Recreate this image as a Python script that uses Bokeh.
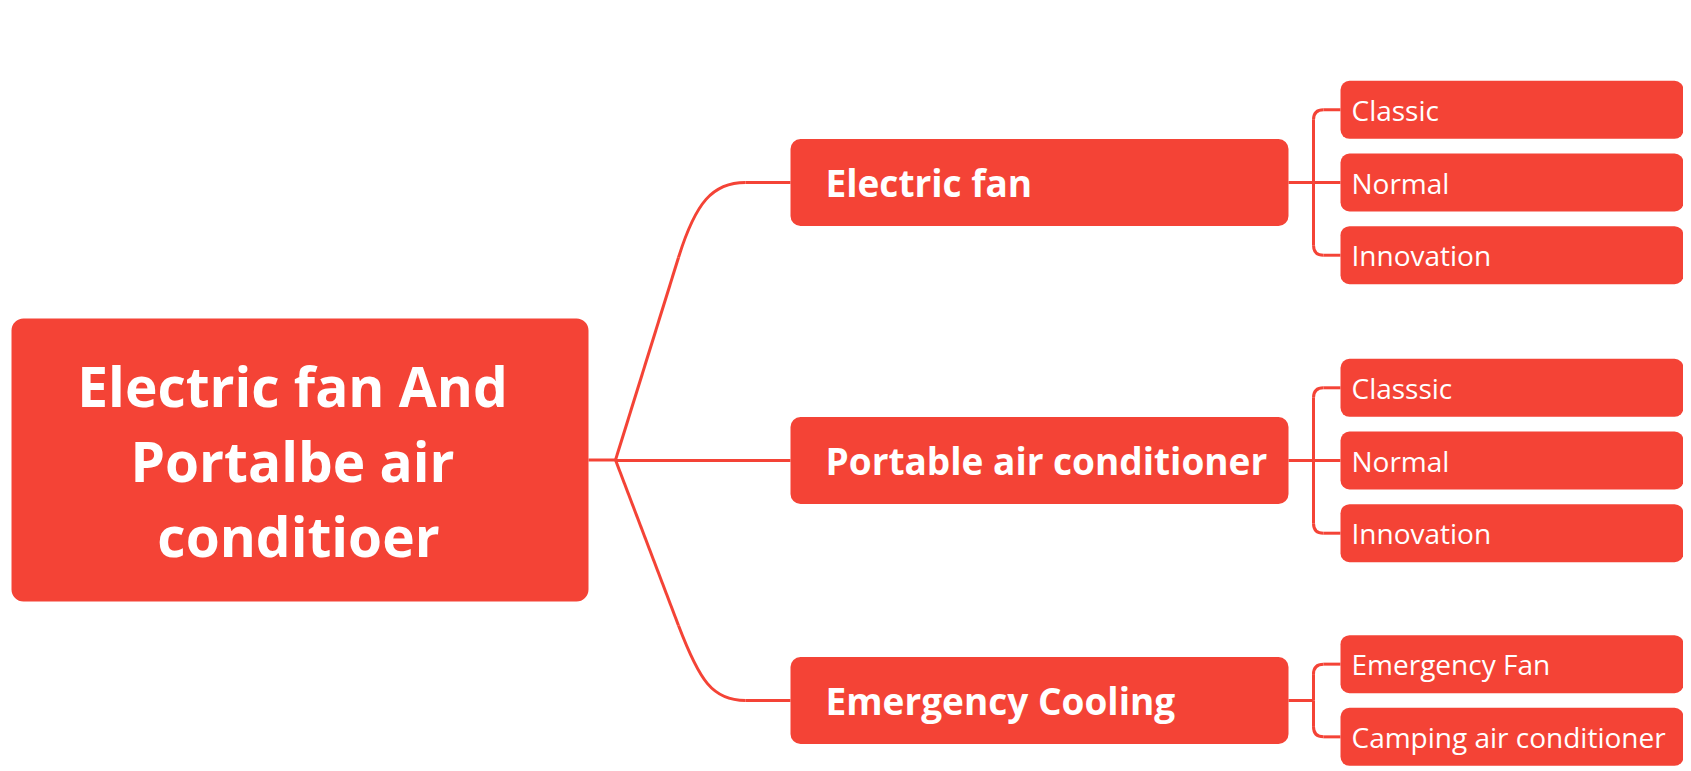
from bokeh.plotting import figure
from bokeh.models import Range1d
from bokeh.embed import file_html
from bokeh.resources import INLINE
from bokeh.core.properties import value

# ---- data ----
root_lines = ["Electric fan And", "Portalbe air", "conditioer"]
branches = ["Electric fan", "Portable air conditioner", "Emergency Cooling"]
leaves = [
    ["Classic", "Normal", "Innovation"],
    ["Classsic", "Normal", "Innovation"],
    ["Emergency Fan", "Camping air conditioner"],
]

# ---- layout (page pixel coordinates) ----
RED = "#F44336"
FONT = value("Open Sans")
W, H = 1683, 767
p = figure(width=W, height=H, output_backend="svg", toolbar_location=None,
           x_range=Range1d(0, W), y_range=Range1d(H, 0),
           min_border=0, outline_line_color=None)
p.axis.visible = False
p.grid.visible = False
p.background_fill_color = "white"
p.border_fill_color = "white"

# root box
root_l, root_r, root_t, root_b = 11, 588, 318, 601
root_cy = (root_t + root_b) / 2
p.quad(left=[root_l], right=[root_r], top=[root_t], bottom=[root_b],
       fill_color=RED, line_color=None, border_radius=12)
line_gap = 75
root_cx = [292, 292, 298]
for i, t in enumerate(root_lines):
    y = root_cy + (i - (len(root_lines) - 1) / 2) * line_gap
    p.text(x=[root_cx[i]], y=[y], text=[t], text_color="white",
           text_font=FONT, text_font_style="bold", text_font_size="55px",
           text_align="center", text_baseline="middle")

# branches
br_l, br_r, br_h = 790, 1288, 87
br_cy = [182, 460, 700]
junc_x = 615
bend_x = 678
p.line([root_r, junc_x], [root_cy, root_cy], line_color=RED, line_width=3)
for name, cy in zip(branches, br_cy):
    p.quad(left=[br_l], right=[br_r], top=[cy - br_h / 2], bottom=[cy + br_h / 2],
           fill_color=RED, line_color=None, border_radius=10)
    p.text(x=[br_l + 35], y=[cy], text=[name], text_color="white",
           text_font=FONT, text_font_style="bold", text_font_size="37px",
           text_align="left", text_baseline="middle")
    if abs(cy - root_cy) < 1:
        p.line([junc_x, br_l], [cy, cy], line_color=RED, line_width=3)
    else:
        s = 1 if root_cy > cy else -1
        bend_y = cy + s * 75
        dx, dy = bend_x - junc_x, bend_y - root_cy
        k = 55 / abs(dy)
        p.line([junc_x, bend_x], [root_cy, bend_y], line_color=RED, line_width=3)
        p.bezier(x0=[bend_x], y0=[bend_y], x1=[745], y1=[cy],
                 cx0=[bend_x + dx * k], cy0=[bend_y + dy * k],
                 cx1=[712], cy1=[cy], line_color=RED, line_width=3)
        p.line([745, br_l], [cy, cy], line_color=RED, line_width=3)

# leaves
lf_l, lf_r, lf_h, lf_gap = 1340, 1683, 58, 72.7
lj_x = 1313
rad = 10
for group, cy in zip(leaves, br_cy):
    n = len(group)
    ys = [cy + (j - (n - 1) / 2) * lf_gap for j in range(n)]
    p.line([br_r, lj_x], [cy, cy], line_color=RED, line_width=3)
    for name, ly in zip(group, ys):
        p.quad(left=[lf_l], right=[lf_r], top=[ly - lf_h / 2], bottom=[ly + lf_h / 2],
               fill_color=RED, line_color=None, border_radius=9)
        p.text(x=[lf_l + 11], y=[ly], text=[name], text_color="white",
               text_font=FONT, text_font_size="28px",
               text_align="left", text_baseline="middle")
        if abs(ly - cy) < 1:
            p.line([lj_x, lf_l], [ly, ly], line_color=RED, line_width=3)
        else:
            s = 1 if ly > cy else -1
            p.line([lj_x, lj_x], [cy, ly - s * rad], line_color=RED, line_width=3)
            p.quadratic(x0=[lj_x], y0=[ly - s * rad], x1=[lj_x + rad], y1=[ly],
                        cx=[lj_x], cy=[ly], line_color=RED, line_width=3)
            p.line([lj_x + rad, lf_l], [ly, ly], line_color=RED, line_width=3)

open("out.html", "w").write(file_html(p, INLINE))
